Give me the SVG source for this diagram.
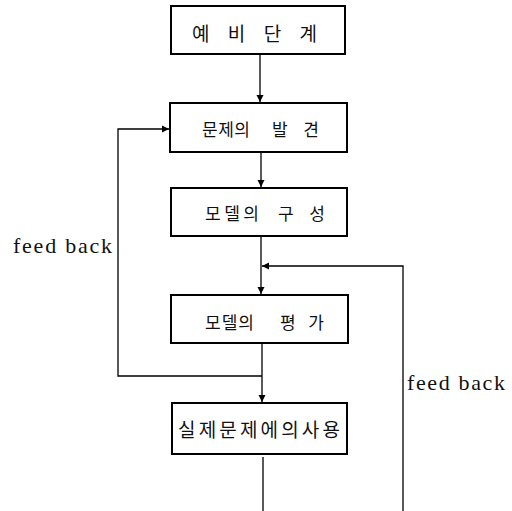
<svg xmlns="http://www.w3.org/2000/svg" width="512" height="511" viewBox="0 0 512 511">
<style>
.box{fill:#fff;stroke:#000;stroke-width:2}
.lbl{font-family:"Noto Sans CJK KR","Noto Sans",sans-serif;font-size:19px;fill:#111;dominant-baseline:central}
.w{font-size:17px}
.fb{font-family:"Liberation Serif","DejaVu Serif",serif;font-size:22px;fill:#111}
.ln{fill:none;stroke:#000;stroke-width:1.3}
</style>
<defs>
<marker id="ah" viewBox="0 0 10 10" refX="10" refY="5" markerWidth="7" markerHeight="8" markerUnits="userSpaceOnUse" orient="auto">
<path d="M0,0 L10,5 L0,10 z" fill="#000"/>
</marker>
</defs>
<rect width="512" height="511" fill="#fff"/>
<g id="connectors">
<line class="ln" x1="260" y1="54" x2="260" y2="102" marker-end="url(#ah)"/>
<line class="ln" x1="261" y1="152" x2="261" y2="187" marker-end="url(#ah)"/>
<line class="ln" x1="261" y1="236" x2="261" y2="294" marker-end="url(#ah)"/>
<line class="ln" x1="262" y1="343" x2="262" y2="402" marker-end="url(#ah)"/>
<line class="ln" x1="263" y1="457" x2="263" y2="511"/>
<polyline class="ln" points="262,376 118,376 118,129 169,129" marker-end="url(#ah)"/>
<polyline class="ln" points="403,511 403,266 262,266" marker-end="url(#ah)"/>
<text class="fb" x="13" y="253" textLength="99" lengthAdjust="spacing">feed back</text>
<text class="fb" x="407" y="390" textLength="98" lengthAdjust="spacing">feed back</text>
</g>
<g id="n1">
<rect class="box" x="171" y="6" width="174" height="48"/>
<text class="lbl" x="192" y="32" textLength="125" lengthAdjust="spacing">예 비 단 계</text>
</g>
<g id="n2">
<rect class="box" x="170" y="103" width="177" height="49"/>
<text class="lbl w" x="202" y="128" textLength="48" lengthAdjust="spacing">문제의</text>
<text class="lbl w" x="272" y="128" textLength="47" lengthAdjust="spacing">발견</text>
</g>
<g id="n3">
<rect class="box" x="171" y="188" width="176" height="48"/>
<text class="lbl w" x="205" y="212" textLength="54" lengthAdjust="spacing">모델의</text>
<text class="lbl w" x="278" y="212" textLength="47" lengthAdjust="spacing">구성</text>
</g>
<g id="n4">
<rect class="box" x="171" y="295" width="177" height="48"/>
<text class="lbl w" x="205" y="321" textLength="49" lengthAdjust="spacing">모델의</text>
<text class="lbl w" x="280" y="321" textLength="44" lengthAdjust="spacing">평가</text>
</g>
<g id="n5">
<rect class="box" x="172" y="403" width="175" height="51"/>
<text class="lbl" x="178" y="428" textLength="162" lengthAdjust="spacing">실제문제에의사용</text>
</g>
</svg>
